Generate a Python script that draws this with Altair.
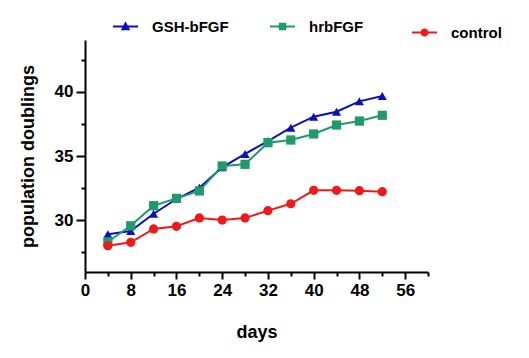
import altair as alt
import pandas as pd

days = [4, 8, 12, 16, 20, 24, 28, 32, 36, 40, 44, 48, 52]
gsh_bfgf = [28.88, 29.14, 30.49, 31.64, 32.52, 34.12, 35.16, 36.17, 37.21, 38.07, 38.46, 39.27, 39.69]
hrbfgf = [28.30, 29.55, 31.12, 31.69, 32.27, 34.22, 34.35, 36.04, 36.25, 36.72, 37.42, 37.73, 38.18]
control = [27.99, 28.26, 29.30, 29.51, 30.16, 30.00, 30.16, 30.73, 31.27, 32.32, 32.32, 32.29, 32.21]

series_names = ["GSH-bFGF", "hrbFGF", "control"]
series_colors = ["#0A10B8", "#1F9A6C", "#F01818"]
series_shapes = ["triangle-up", "square", "circle"]
legend_shapes = [
    "M-1,-0.08H1V0.08H-1ZM0,-0.42L0.38,0.3L-0.38,0.3Z",
    "M-1,-0.08H1V0.08H-1ZM-0.3,-0.3H0.3V0.3H-0.3Z",
    "M-1,-0.08H1V0.08H-1ZM0.32,0A0.32,0.32 0 1 1 -0.32,0A0.32,0.32 0 1 1 0.32,0Z",
]
legend_x = [27, 184, 326]
legend_y = [-27, -27, -21]

x_ticks = list(range(0, 61, 4))
y_ticks = [27.5, 30, 32.5, 35, 37.5, 40, 42.5]

rows = []
for name, vals in zip(series_names, [gsh_bfgf, hrbfgf, control]):
    for d, v in zip(days, vals):
        rows.append({"day": d, "value": v, "series": name})
df = pd.DataFrame(rows)

FONT = "Liberation Sans"

color_scale = alt.Scale(domain=series_names, range=series_colors)

x_enc = alt.X(
    "day:Q",
    scale=alt.Scale(domain=[0, 60], nice=False),
    axis=alt.Axis(
        values=x_ticks,
        title="days",
        labelExpr="(datum.value % 8 === 0 && datum.value < 60) ? datum.label : ''",
        tickSize={"condition": {"test": "datum.value % 8 === 0", "value": 7}, "value": 4},
        titleY=51,
        titleBaseline="top",
    ),
)
y_enc = alt.Y(
    "value:Q",
    scale=alt.Scale(domain=[25.94, 44.06], nice=False, zero=False),
    axis=alt.Axis(
        values=y_ticks,
        title="population doublings",
        labelExpr="(datum.value % 5 === 0) ? datum.label : ''",
        tickSize={"condition": {"test": "datum.value % 5 === 0", "value": 9}, "value": 4},
        titleX=-48,
        titleY=116,
        titleAngle=270,
        titleAlign="center",
        titleBaseline="bottom",
    ),
)

lines = alt.Chart(df).mark_line(strokeWidth=2).encode(
    x=x_enc,
    y=y_enc,
    color=alt.Color("series:N", scale=color_scale, legend=None),
    detail="series:N",
)

point_layers = []
for name, shp in zip(series_names, series_shapes):
    point_layers.append(
        alt.Chart(df)
        .transform_filter(alt.datum.series == name)
        .mark_point(filled=True, size=85, opacity=1, shape=shp)
        .encode(
            x=x_enc,
            y=y_enc,
            color=alt.Color("series:N", scale=color_scale, legend=None),
        )
    )

legend_layers = []
for name, col, path, lx, ly in zip(series_names, series_colors, legend_shapes, legend_x, legend_y):
    legend_layers.append(
        alt.Chart(df)
        .transform_filter("datum.value < 0")
        .mark_point(filled=True, size=80, color=col, fill=col)
        .encode(
            x=x_enc,
            y=y_enc,
            shape=alt.Shape(
                "series:N",
                scale=alt.Scale(domain=[name], range=[path]),
                legend=alt.Legend(
                    title=None,
                    orient="none",
                    direction="horizontal",
                    legendX=lx,
                    legendY=ly,
                    symbolSize=625,
                    symbolOpacity=1,
                    symbolFillColor=col,
                    labelOffset=13,
                    labelFont=FONT,
                    labelFontSize=15,
                    labelFontWeight="bold",
                    labelColor="black",
                ),
            ),
        )
    )

chart = (
    alt.layer(lines, *point_layers, *legend_layers)
    .resolve_scale(shape="independent")
    .properties(
        width=343,
        height=232,
        autosize=alt.AutoSizeParams(type="none"),
        padding={"left": 77, "top": 32, "right": 93, "bottom": 70},
    )
    .configure_view(stroke=None)
    .configure_axis(
        domainColor="black",
        domainWidth=2,
        tickColor="black",
        tickWidth=2,
        grid=False,
        labelFont=FONT,
        labelFontSize=17,
        labelFontWeight="bold",
        labelColor="black",
        labelPadding=3,
        titleFont=FONT,
        titleFontSize=18,
        titleFontWeight="bold",
        titleColor="black",
        labelFlush=False,
        labelOverlap=False,
    )
)

chart.save("out.html", embed_options={"renderer": "svg", "actions": False})
